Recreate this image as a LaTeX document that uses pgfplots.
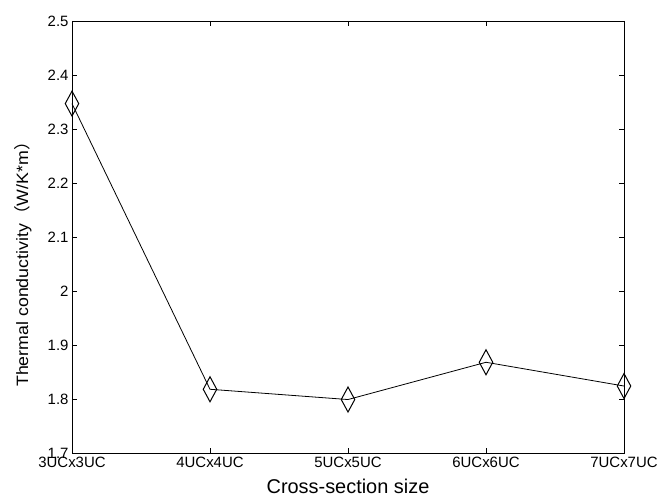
\documentclass[border=0pt]{standalone}
\usepackage{fontspec}
\setmainfont{Liberation Sans}
\newfontfamily\cjk{Noto Sans CJK SC}
\usepackage{graphicx}
\usepackage{pgfplots}
\pgfplotsset{compat=1.18}
\begin{document}
\begin{tikzpicture}[x=1bp,y=1bp]
\useasboundingbox (0,0) rectangle (657,499);
\begin{axis}[
  at={(72bp,46bp)}, anchor=south west, scale only axis,
  width=552bp, height=432bp,
  xmin=0, xmax=4, ymin=1.7, ymax=2.5,
  xtick={0,1,2,3,4},
  xticklabels={3UCx3UC,4UCx4UC,5UCx5UC,6UCx6UC,7UCx7UC},
  ytick={1.7,1.8,1.9,2.0,2.1,2.2,2.3,2.4,2.5},
  yticklabels={1.7,1.8,1.9,2,2.1,2.2,2.3,2.4,2.5},
  tick align=inside, major tick length=5bp,
  xtick pos=both, ytick pos=both,
  ticklabel style={font=\fontsize{15}{15}\selectfont},
  xticklabel style={yshift=-1bp},
  /pgf/number format/assume math mode=true,
  axis line style={line width=0.9bp},
  tick style={line width=0.8bp, black},
  clip=false,
]
\addplot[black, line width=0.8bp, mark=diamond, mark size=12.5bp,
  mark options={xscale=0.72, line width=1bp, fill=none}]
  coordinates {(0,2.347) (1,1.818) (2,1.799) (3,1.868) (4,1.824)};
\end{axis}
\node[anchor=base] at (348,5) {\fontsize{20}{20}\selectfont Cross-section size};
\node[rotate=90, anchor=base] at (28,239) {\scalebox{1.08}[1]{\fontsize{16.5}{16.5}\selectfont Thermal conductivity{\cjk （}W/K*m{\cjk ）}}};
\end{tikzpicture}
\end{document}
